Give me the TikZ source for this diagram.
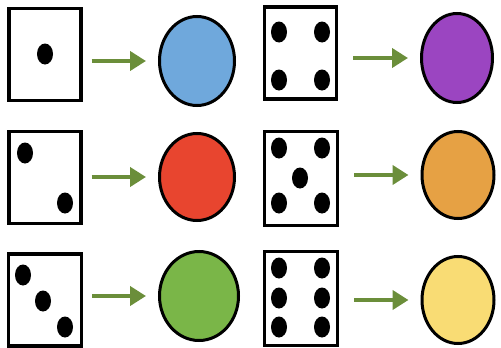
\documentclass[tikz,border=0pt]{standalone}
\usepackage{xcolor}
\usepackage{tikz}
\usetikzlibrary{arrows.meta,shapes.geometric}
\definecolor{arrc}{HTML}{6B8E3A}
\definecolor{fblue}{HTML}{6FA8DC}
\definecolor{fpurple}{HTML}{9B45C1}
\definecolor{fred}{HTML}{E8452F}
\definecolor{forange}{HTML}{E6A144}
\definecolor{fgreen}{HTML}{7AB648}
\definecolor{fyellow}{HTML}{F9DC74}
\tikzset{
  ar/.style={-{Triangle[length=16pt,width=19pt]},line width=4pt,arrc},
  die/.style={draw=black,line width=3.2pt,fill=white,minimum width=72pt,minimum height=92pt,inner sep=0pt},
  face/.style={draw=black,line width=3pt,ellipse,inner sep=0pt}
}
\newcommand{\dpip}[2]{\fill[black] (#1,#2) ellipse (8 and 10.5);}
\begin{document}
\begin{tikzpicture}[x=1pt,y=-1pt]
\useasboundingbox (0,0) rectangle (501,348);
% dice
\node[die] (d1) at (45,54.5) {};
\node[die] (d2) at (45,177.5) {};
\node[die,minimum width=73pt] (d3) at (45,300) {};
\node[die] (d4) at (300.5,53) {};
\node[die,minimum width=73pt,minimum height=94pt] (d5) at (301,178.5) {};
\node[die,minimum width=73pt,minimum height=94pt] (d6) at (301,298.5) {};
% pips
\dpip{45}{54}
\dpip{25}{153} \dpip{65}{203}
\dpip{23}{275} \dpip{43}{301} \dpip{65}{327}
\foreach \x in {279,322} {\dpip{\x}{32} \dpip{\x}{80}}
\foreach \x in {279,322} {\dpip{\x}{148} \dpip{\x}{203}}
\dpip{300}{178}
\foreach \x in {279,322} {\foreach \y in {268,298,327} {\dpip{\x}{\y}}}
% colour faces
\node[face,fill=fblue,minimum width=75pt,minimum height=89pt] (c1) at (197,61) {};
\node[face,fill=fred,minimum width=75pt,minimum height=87pt] (c2) at (197,177) {};
\node[face,fill=fgreen,minimum width=79pt,minimum height=89pt] (c3) at (199,296) {};
\node[face,fill=fpurple,minimum width=71pt,minimum height=89pt] (c4) at (457,58) {};
\node[face,fill=forange,minimum width=72pt,minimum height=87pt] (c5) at (458,175) {};
\node[face,fill=fyellow,minimum width=72pt,minimum height=87pt] (c6) at (458,300) {};
% arrows
\foreach \d/\c in {d1/c1,d2/c2,d3/c3}
  \draw[ar] ([xshift=9pt]\d.east |- \c.west) -- ([xshift=-12pt]\c.west);
\foreach \d/\c in {d4/c4,d5/c5,d6/c6}
  \draw[ar] ([xshift=15pt]\d.east |- \c.west) -- ([xshift=-12pt]\c.west);
\end{tikzpicture}
\end{document}
